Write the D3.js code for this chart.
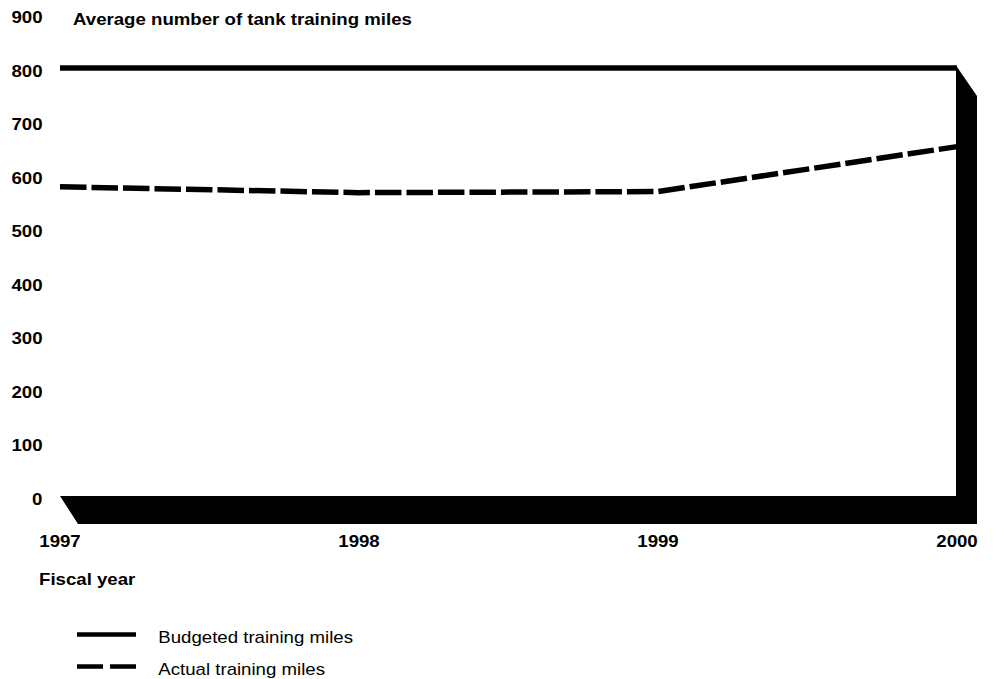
<!DOCTYPE html>
<html>
<head>
<meta charset="utf-8">
<script src="https://cdn.jsdelivr.net/npm/d3@7/dist/d3.min.js"></script>
<style>
  html, body { margin: 0; padding: 0; background: #fff; }
  svg { display: block; }
  text { font-family: "Liberation Sans", Arial, Helvetica, sans-serif; fill: #000; }
</style>
</head>
<body>
<svg id="chart" width="994" height="679"></svg>
<script>
const years = [1997, 1998, 1999, 2000];
const budgeted = [800, 800, 800, 800];
const actual = [578, 567, 569, 653];
const yTicks = [0, 100, 200, 300, 400, 500, 600, 700, 800, 900];
const titleText = "Average number of tank training miles";
const xTitle = "Fiscal year";
const legendLabels = ["Budgeted training miles", "Actual training miles"];

const svg = d3.select("#chart");
const x = d3.scaleLinear().domain([1997, 2000]).range([60, 957]);
const y = d3.scaleLinear().domain([0, 900]).range([496, 14.5]);

const SX = 1.13;
function stretchedText(g, tx, ty, str, anchor, weight, size, sx) {
  return g.append("text")
    .attr("transform", `translate(${tx},${ty}) scale(${sx},1)`)
    .attr("text-anchor", anchor)
    .attr("font-weight", weight)
    .attr("font-size", size)
    .text(str);
}

// 3D floor + right wall
const dx = 20, dy = 28;
const x0 = x(1997), x1 = x(2000), yb = y(0), yt = y(800);
const wall = [
  [x0, yb], [x1 - 1, yb], [x1 - 1, yt - 2.6], [x1 + dx, yt + dy],
  [x1 + dx, yb + dy], [x0 + 18, yb + dy]
];
svg.append("path")
  .attr("d", d3.line()(wall) + "Z")
  .attr("fill", "#000");

// y tick labels
const gy = svg.append("g");
yTicks.forEach(t => {
  stretchedText(gy, 42.5, y(t) + 8.5, d3.format("d")(t), "end", "bold", 16.5, SX);
});

// x tick labels
const gx = svg.append("g");
years.forEach(yr => {
  stretchedText(gx, x(yr), 547, String(yr), "middle", "bold", 16.5, SX);
});

// titles
stretchedText(svg, 73, 25, titleText, "start", "bold", 16.5, SX);
stretchedText(svg, 39, 585, xTitle, "start", "bold", 16.5, SX);

// lines
const line = d3.line().x((d, i) => x(years[i])).y(d => y(d));
svg.append("path")
  .datum(budgeted)
  .attr("d", line)
  .attr("fill", "none")
  .attr("stroke", "#000")
  .attr("stroke-width", 5.3);

svg.append("path")
  .datum(actual)
  .attr("d", line)
  .attr("fill", "none")
  .attr("stroke", "#000")
  .attr("stroke-width", 5.5)
  .attr("stroke-dasharray", "26.5,5");

// legend
const lg = svg.append("g");
lg.append("line").attr("x1", 77).attr("x2", 136).attr("y1", 634.5).attr("y2", 634.5)
  .attr("stroke", "#000").attr("stroke-width", 4.5);
lg.append("line").attr("x1", 77).attr("x2", 136).attr("y1", 666.5).attr("y2", 666.5)
  .attr("stroke", "#000").attr("stroke-width", 4.5).attr("stroke-dasharray", "26,7");
stretchedText(lg, 158.3, 643.3, legendLabels[0], "start", "normal", 15.8, 1.18);
stretchedText(lg, 158.3, 674.5, legendLabels[1], "start", "normal", 15.8, 1.18);
</script>
</body>
</html>
